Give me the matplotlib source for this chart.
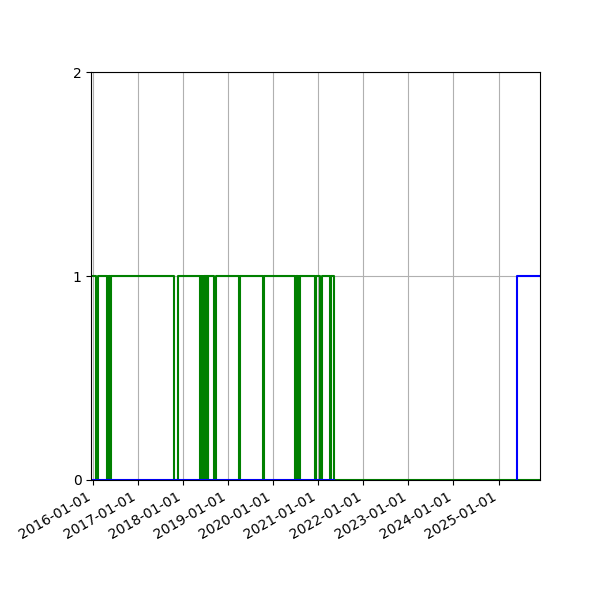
import matplotlib
matplotlib.use("Agg")
import matplotlib.pyplot as plt
import matplotlib.dates as mdates
import numpy as np
import pandas as pd

# rango de datos
inicio = "2015-12-18"
fin = "2025-12-02"

# periodos en 0 de la serie verde (inicio, fin)
caidas_verde = [
    ("2016-01-25", "2016-02-15"),
    ("2016-04-23", "2016-04-30"), ("2016-05-06", "2016-05-13"), ("2016-05-19", "2016-05-28"),
    ("2017-10-20", "2017-11-22"),
    ("2018-05-19", "2018-05-24"), ("2018-05-28", "2018-06-02"), ("2018-06-06", "2018-06-11"),
    ("2018-06-15", "2018-06-20"), ("2018-06-24", "2018-06-29"), ("2018-07-03", "2018-07-08"),
    ("2018-07-12", "2018-07-17"), ("2018-07-21", "2018-07-25"),
    ("2018-09-10", "2018-09-24"),
    ("2019-03-27", "2019-04-08"),
    ("2019-10-08", "2019-10-22"),
    ("2020-06-27", "2020-07-03"), ("2020-07-08", "2020-07-14"),
    ("2020-07-19", "2020-07-25"), ("2020-07-30", "2020-08-07"),
    ("2020-12-01", "2020-12-15"),
    ("2021-01-17", "2021-01-31"),
    ("2021-04-02", "2021-04-14"),
]
fin_verde = "2021-05-05"   # desde aqui la serie verde queda en 0

# serie azul: 0 hasta fin_verde, sube a 1 en salto_azul
salto_azul = "2025-06-01"

# construir serie verde
fechas_v = [pd.Timestamp(inicio)]
valores_v = [1]
for a, b in caidas_verde:
    fechas_v += [pd.Timestamp(a), pd.Timestamp(b)]
    valores_v += [0, 1]
fechas_v += [pd.Timestamp(fin_verde), pd.Timestamp(fin)]
valores_v += [0, 0]

# serie azul (cortada con NaN)
fechas_a = [pd.Timestamp(inicio), pd.Timestamp(fin_verde), pd.Timestamp(fin_verde),
            pd.Timestamp(salto_azul), pd.Timestamp(salto_azul), pd.Timestamp(fin)]
valores_a = [0, 0, np.nan, 0, 1, 1]

fig = plt.figure(figsize=(6, 6), dpi=100)
ax = fig.add_subplot(111)

ax.plot(fechas_v, valores_v, color="green", drawstyle="steps-post", lw=1.5)
ax.plot(fechas_a, valores_a, color="blue", drawstyle="steps-post", lw=1.5)

ax.set_xlim(pd.Timestamp(inicio), pd.Timestamp(fin))
ax.set_ylim(0, 2)
ax.set_yticks([0, 1, 2])
ax.xaxis.set_major_locator(mdates.YearLocator())
ax.xaxis.set_major_formatter(mdates.DateFormatter("%Y-%m-%d"))
ax.grid(True)
fig.autofmt_xdate()
plt.subplots_adjust(left=0.152, right=0.9, top=0.88, bottom=0.2)

plt.savefig("out.png")
